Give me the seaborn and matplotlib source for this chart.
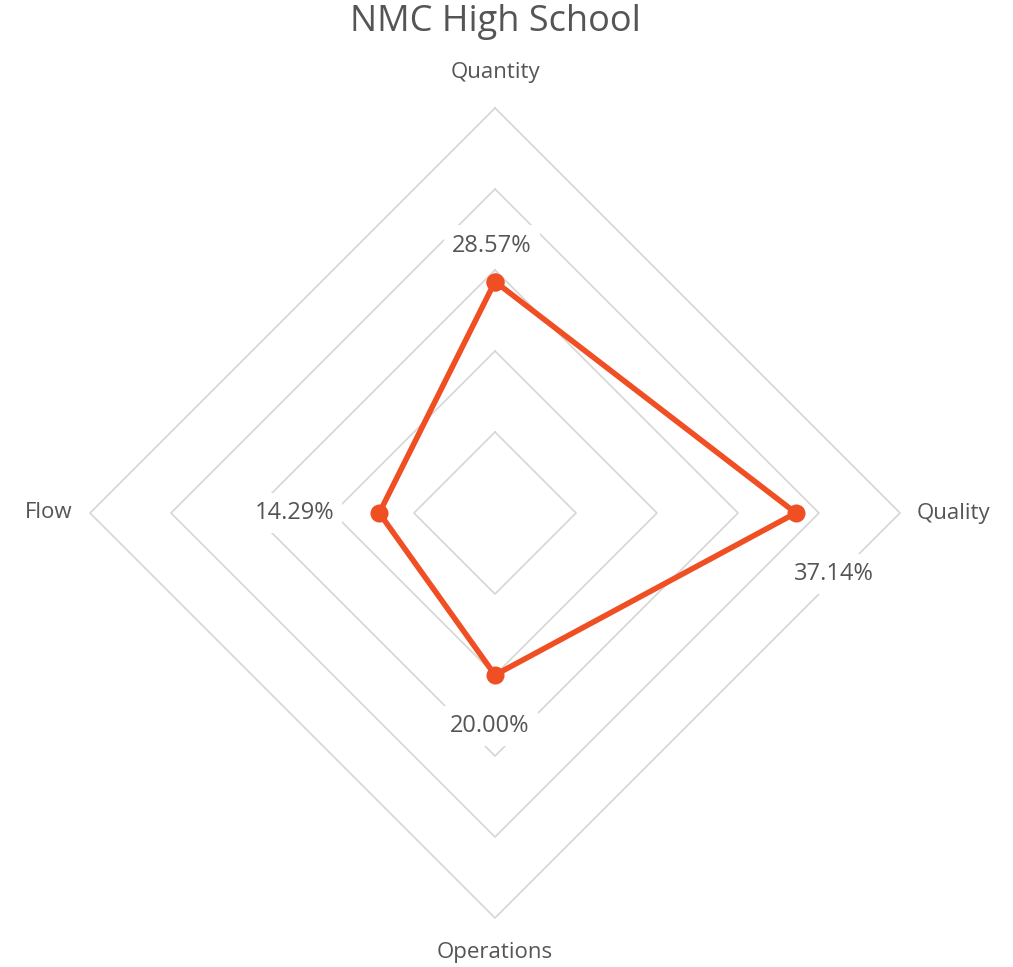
import numpy as np
import pandas as pd
import matplotlib
matplotlib.use("Agg")
import matplotlib.pyplot as plt
import seaborn as sns

# --- datos ---
categorias = ["Quantity", "Quality", "Operations", "Flow"]
valores = [28.57, 37.14, 20.00, 14.29]
niveles = [10, 20, 30, 40, 50]

color_linea = "#F04E23"
color_grid = "#D6D6D6"
color_texto = "#555555"

sns.set_theme(style="white")
plt.rcParams["font.family"] = ["Open Sans", "DejaVu Sans"]

n = len(categorias)
angulos = np.linspace(0, 2 * np.pi, n, endpoint=False)

df = pd.DataFrame({
    "theta": np.append(angulos, angulos[0]),
    "r": valores + [valores[0]],
})

fig = plt.figure(figsize=(10.13, 9.67), dpi=100)
ax = fig.add_axes([90 / 1013, 49 / 967, 810 / 1013, 810 / 967], projection="polar")
ax.set_theta_zero_location("N")
ax.set_theta_direction(-1)
ax.set_ylim(0, max(niveles))
ax.grid(False)
ax.spines["polar"].set_visible(False)
ax.set_xticks([])
ax.set_yticks([])
ax.set_facecolor("none")

# rejilla en forma de diamante
th = np.append(angulos, angulos[0])
for nv in niveles:
    ax.plot(th, [nv] * (n + 1), color=color_grid, lw=1.2, zorder=1, clip_on=False)

sns.lineplot(data=df, x="theta", y="r", ax=ax, sort=False, color=color_linea,
             lw=4, marker="o", markersize=13, markeredgewidth=0, zorder=3,
             estimator=None)
ax.set_xlabel("")
ax.set_ylabel("")

# etiquetas de categoria
cat_pos = {
    "Quantity": dict(r=54.4, ha="center", va="center"),
    "Quality": dict(r=52.1, ha="left", va="center"),
    "Operations": dict(r=54.2, ha="center", va="center"),
    "Flow": dict(r=52.2, ha="right", va="center"),
}
for ang, cat in zip(angulos, categorias):
    p = cat_pos[cat]
    ax.text(ang, p["r"], cat, ha=p["ha"], va=p["va"], fontsize=16,
            color=color_texto, clip_on=False)

# etiquetas de valor
offsets = {"Quantity": (-3, 36), "Quality": (38, -61),
           "Operations": (-5, -51), "Flow": (-85, 0)}
for ang, cat, v in zip(angulos, categorias, valores):
    ax.annotate(f"{v:.2f}%", (ang, v), xytext=offsets[cat], textcoords="offset pixels",
                ha="center", va="center", fontsize=17, color=color_texto, zorder=4,
                bbox=dict(boxstyle="square,pad=0.35", fc="white", ec="none"))

fig.text(495 / 1013, 1 - 22 / 967, "NMC High School", ha="center", va="center",
         fontsize=26, color=color_texto)

fig.savefig("out.png", dpi=100, facecolor="white")
